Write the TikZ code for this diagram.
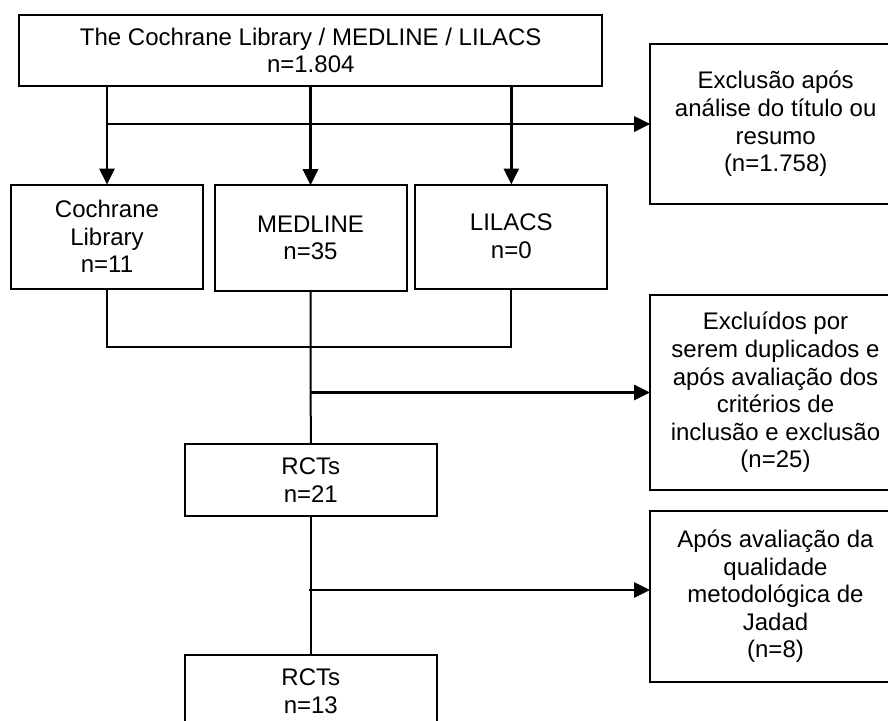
\documentclass[tikz,border=0pt]{standalone}
\usepackage{fontspec}
\setmainfont{Liberation Sans}
\usetikzlibrary{positioning,arrows.meta,calc}
\definecolor{inkBlack}{HTML}{000000}
\definecolor{paperWhite}{HTML}{FFFFFF}
\tikzset{
    box/.style={draw=inkBlack,fill=paperWhite,line width=1pt,inner sep=0pt,
        outer sep=0pt,align=center,font=\fontsize{12}{13.8}\selectfont},
    srcbox/.style={box,minimum width=96pt,minimum height=52pt},
    exclbox/.style={box,minimum width=125.5pt},
    rctbox/.style={box,minimum width=125.8pt,minimum height=36pt},
    arrow/.style={-{Triangle[length=8pt,width=7.5pt]},draw=inkBlack,line width=1.4pt},
    link/.style={draw=inkBlack,line width=1pt}
}
\begin{document}
\begin{tikzpicture}[x=0.5pt,y=-0.5pt]
        % pixel frame of the flow chart
        \clip (0,0) rectangle (888,720);
        \fill[paperWhite] (0,0) rectangle (888,720);

        % bases pesquisadas
        \node[box,minimum width=291.3pt,minimum height=35.5pt] (search) at (310.75,50.5)
            {The Cochrane Library / MEDLINE / LILACS\\n=1.804};
        \node[srcbox] (cochrane) at (107,236.5) {Cochrane\\Library\\n=11};
        \node[srcbox,minimum height=52.8pt] (medline) at (310.5,238) {MEDLINE\\n=35};
        \node[srcbox] (lilacs) at (511.3,236.5) {LILACS\\n=0};

        % exclusões à direita
        \node[exclbox,minimum height=80pt] (exclA) at (775.7,124)
            {Exclusão após\\análise do título ou\\resumo\\(n=1.758)};
        \node[exclbox,minimum height=97.5pt] (exclB) at (775.5,392.5)
            {Excluídos por\\serem duplicados e\\após avaliação dos\\critérios de\\inclusão e exclusão\\(n=25)};
        \node[exclbox,minimum height=85.3pt] (exclC) at (775.5,596.3)
            {Após avaliação da\\qualidade\\metodológica de\\Jadad\\(n=8)};

        % RCTs
        \node[rctbox] (rctA) at (310.8,480) {RCTs\\n=21};
        \node[rctbox] (rctB) at (310.8,691) {RCTs\\n=13};

        \coordinate (merge) at (310,346.7);
        \coordinate (jadad) at (309,590);

        % conectores
        \draw[arrow] (search.south -| cochrane) -- (cochrane.north);
        \draw[arrow] (search.south -| medline) -- (medline.north);
        \draw[arrow] (search.south -| lilacs) -- (lilacs.north);
        \draw[arrow] (cochrane.north |- exclA.west) -- (exclA.west);

        \draw[link] (cochrane.south) |- (merge) -| (lilacs.south);
        \draw[link] (medline.south) -- (rctA.north);
        \draw[arrow] (medline.south |- exclB.west) -- (exclB.west);
        \draw[link] (rctA.south) -- (rctB.north);
        \draw[arrow] (jadad) -- (exclC.west |- jadad);

    \end{tikzpicture}
\end{document}
